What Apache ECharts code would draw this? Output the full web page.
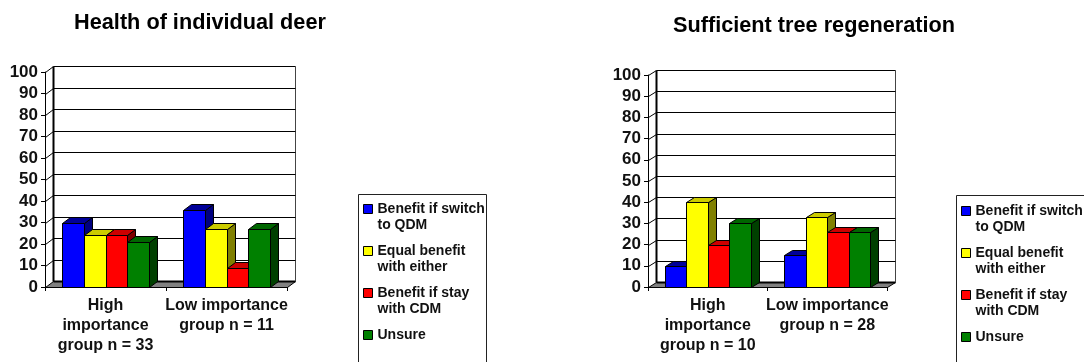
<!DOCTYPE html>
<html>
<head>
<meta charset="utf-8">
<style>html,body{margin:0;padding:0;background:#fff}#main{width:1084px;height:362px}</style>
<script src="https://cdn.jsdelivr.net/npm/echarts@6/dist/echarts.min.js"></script>
</head>
<body>
<div id="main"></div>
<script>
// Perceived benefit by importance group, for two survey questions
const responses = ['Benefit if switch to QDM', 'Equal benefit with either', 'Benefit if stay with CDM', 'Unsure'];
// A leading blank line keeps each legend swatch level with the first text line
const legendLines = ['\nBenefit if switch\nto QDM', '\nEqual benefit\nwith either', '\nBenefit if stay\nwith CDM', '\nUnsure\n '];
const yTicks = [0, 10, 20, 30, 40, 50, 60, 70, 80, 90, 100];

const deerTitle = 'Health of individual deer';
const deerGroups = ['High\nimportance\ngroup n = 33', 'Low importance\ngroup n = 11'];
const deerSwitch = [30, 36];
const deerEqual = [24, 27];
const deerStay = [24, 9];
const deerUnsure = [21, 27];

const treeTitle = 'Sufficient tree regeneration';
const treeGroups = ['High\nimportance\ngroup n = 10', 'Low importance\ngroup n = 28'];
const treeSwitch = [10, 15];
const treeEqual = [40, 33];
const treeStay = [20, 26];
const treeUnsure = [30, 26];

// Front, top and side shades of each response's 3D bar
const faces = [
  { front: '#0000ff', top: '#000099', side: '#000080' },
  { front: '#ffff00', top: '#cccc00', side: '#808000' },
  { front: '#ff0000', top: '#cc0000', side: '#800000' },
  { front: '#008000', top: '#006600', side: '#004000' }
];
const ink = '#000';
const font = 'Liberation Sans, Arial, sans-serif';
const snap = v => Math.round(v) + 0.5;

const panels = [
  { title: deerTitle, titleX: 195, titleY: 7, groups: deerGroups, values: [deerSwitch, deerEqual, deerStay, deerUnsure],
    grid: { left: 45, top: 72, width: 242, height: 215 }, dx: 8, dy: 6,
    legend: { left: 363, top: 185 }, box: { x: 358.5, y: 194.5, width: 128, height: 200 } },
  { title: treeTitle, titleX: 809, titleY: 10, groups: treeGroups, values: [treeSwitch, treeEqual, treeStay, treeUnsure],
    grid: { left: 648, top: 75, width: 239, height: 212 }, dx: 8, dy: 5,
    legend: { left: 961, top: 187 }, box: { x: 956.5, y: 195.5, width: 200, height: 200 } }
];

function line(x1, y1, x2, y2, width, color) {
  return { type: 'line', shape: { x1, y1, x2, y2 }, style: { stroke: color || ink, lineWidth: width || 1 } };
}
function poly(points, fill) {
  return { type: 'polygon', shape: { points }, style: { fill, stroke: ink, lineWidth: 1 } };
}

// Back wall, left wall and floor; one item per value tick
function wallRenderer(dx, dy) {
  return function (params, api) {
    const cs = params.coordSys;
    const v = api.value(1);
    const y = snap(api.coord([0, v])[1]);
    const xl = snap(cs.x), xr = snap(cs.x + cs.width);
    const children = [];
    if (v === 0) {
      children.push(poly([[xl, y], [xr, y], [xr + dx, y - dy], [xl + dx, y - dy]], '#808080'));
      const yTop = snap(api.coord([0, 100])[1]);
      children.push(line(xl + dx, y - dy, xr + dx, y - dy, 2));
      children.push(line(xl + dx, y - dy, xl + dx, yTop - dy, 2));
      children.push(line(xr + dx, y - dy, xr + dx, yTop - dy, 1, '#444'));
    } else {
      children.push(line(xl + dx, y - dy, xr + dx, y - dy));
      children.push(line(xl, y, xl + dx, y - dy));
    }
    return { type: 'group', children };
  };
}

// One response's bar in a group: front face plus top and side faces
function barRenderer(slot, shade, dx, dy) {
  return function (params, api) {
    const band = api.size([1, 0])[0];
    const w = band * 0.18;
    const c = api.coord([api.value(0), api.value(1)]);
    const base = api.coord([api.value(0), 0]);
    const x0 = snap(c[0] + (slot - 2) * w), x1 = snap(c[0] + (slot - 1) * w);
    const yT = snap(c[1]), yB = snap(base[1]);
    return {
      type: 'group',
      children: [
        poly([[x1, yT], [x1 + dx, yT - dy], [x1 + dx, yB - dy], [x1, yB]], shade.side),
        poly([[x0, yT], [x0 + dx, yT - dy], [x1 + dx, yT - dy], [x1, yT]], shade.top),
        poly([[x0, yT], [x1, yT], [x1, yB], [x0, yB]], shade.front)
      ]
    };
  };
}

const axisStyle = { show: true, lineStyle: { color: ink, width: 1 } };
const option = {
  animation: false,
  backgroundColor: '#fff',
  title: panels.map(p => ({
    text: p.title, left: p.titleX, top: p.titleY, textAlign: 'center',
    textStyle: { fontFamily: font, fontWeight: 'bold', fontSize: 21.7, color: ink }
  })),
  grid: panels.map(p => p.grid),
  xAxis: panels.map((p, i) => ({
    type: 'category', gridIndex: i, data: p.groups, boundaryGap: true, z: 5,
    axisLine: axisStyle, axisTick: { show: true, length: 4, lineStyle: { color: ink } },
    splitLine: { show: false },
    axisLabel: { interval: 0, margin: 9, fontFamily: font, fontWeight: 'bold', fontSize: 16, lineHeight: 20, color: '#111', hideOverlap: false }
  })),
  yAxis: panels.map((p, i) => ({
    type: 'value', gridIndex: i, min: 0, max: 100, interval: 10, z: 5,
    axisLine: axisStyle, axisTick: { show: true, length: 4, lineStyle: { color: ink } },
    splitLine: { show: false },
    axisLabel: { margin: 7, fontFamily: font, fontWeight: 'bold', fontSize: 17, color: '#111' },
    customValues: yTicks
  })),
  legend: panels.map(p => ({
    orient: 'vertical', left: p.legend.left, top: p.legend.top, padding: 0,
    data: responses, itemWidth: 9, itemHeight: 9, itemGap: -6, icon: 'rect',
    itemStyle: { borderColor: ink, borderWidth: 1 },
    selectedMode: false,
    formatter: name => legendLines[responses.indexOf(name)],
    textStyle: { fontFamily: font, fontWeight: 'bold', fontSize: 14, lineHeight: 16, color: '#111' }
  })),
  graphic: panels.map(p => ({
    type: 'rect', shape: p.box, style: { fill: 'none', stroke: '#222', lineWidth: 1 }, silent: true
  })),
  series: panels.flatMap((p, i) => [
    {
      type: 'custom', xAxisIndex: i, yAxisIndex: i, clip: false, z: 1, silent: true,
      data: yTicks.map(v => [0, v]),
      renderItem: wallRenderer(p.dx, p.dy)
    },
    ...responses.map((name, s) => ({
      type: 'custom', name, xAxisIndex: i, yAxisIndex: i, clip: false, z: 2 + s,
      itemStyle: { color: faces[s].front },
      data: p.values[s].map((v, k) => [k, v]),
      renderItem: barRenderer(s, faces[s], p.dx, p.dy)
    }))
  ])
};

echarts.init(document.getElementById('main')).setOption(option);
</script>
</body>
</html>
